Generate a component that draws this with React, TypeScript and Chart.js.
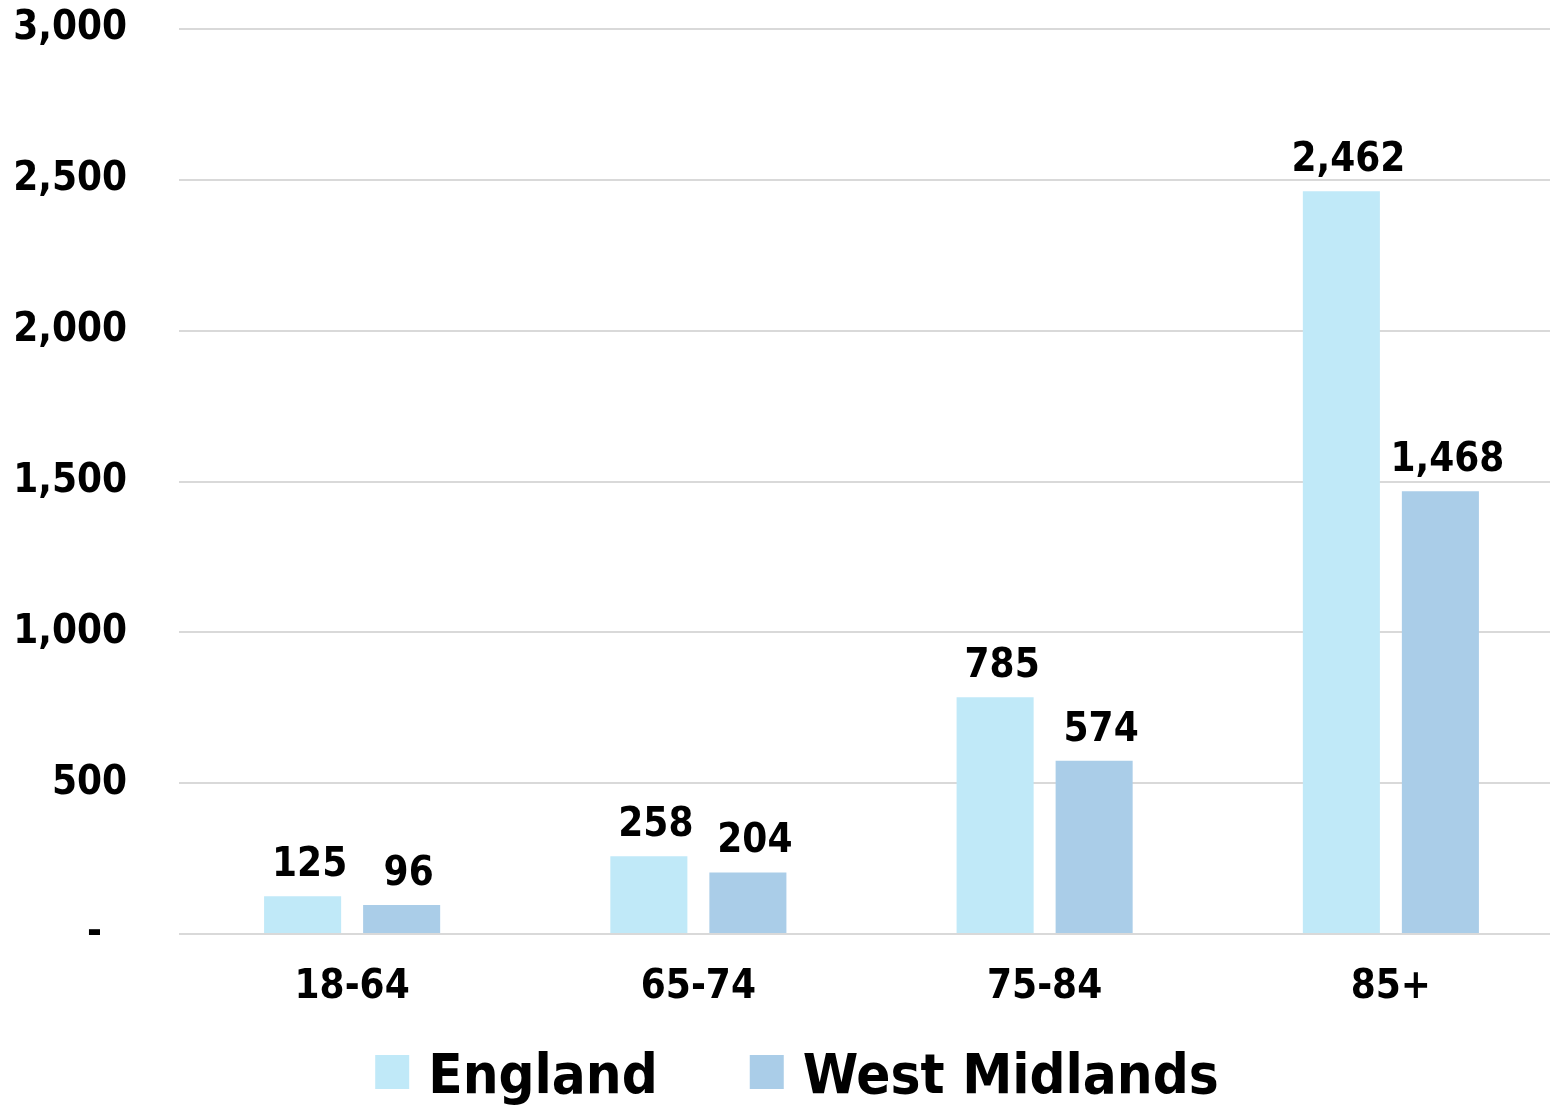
import React, { useEffect, useRef } from "react";
import { Chart, registerables } from "chart.js";

Chart.register(...registerables);

const categories = ["18-64", "65-74", "75-84", "85+"];
const englandValues = [125, 258, 785, 2462];
const westMidlandsValues = [96, 204, 574, 1468];
const yTicks = [0, 500, 1000, 1500, 2000, 2500, 3000];

const FONT = "'DejaVu Sans Condensed', 'DejaVu Sans', sans-serif";
const ENGLAND_COLOR = "#C0E9F8";
const WM_COLOR = "#AACDE8";

// Accounting-style number format: zero shows as a dash with trailing space
const fmt = (v: number) => (v === 0 ? "-  " : v.toLocaleString("en-GB"));

// Draws the value above each bar
const valueLabels = {
  id: "valueLabels",
  afterDatasetsDraw(chart: any) {
    const { ctx } = chart;
    ctx.save();
    ctx.font = `bold 40px ${FONT}`;
    ctx.fillStyle = "#000";
    ctx.textAlign = "center";
    ctx.textBaseline = "alphabetic";
    chart.data.datasets.forEach((ds: any, i: number) => {
      const meta = chart.getDatasetMeta(i);
      meta.data.forEach((bar: any, j: number) => {
        ctx.fillText(fmt(ds.data[j]), bar.x + 7, bar.y - 20);
      });
    });
    ctx.restore();
  },
};

// Legend row along the bottom edge, built from the datasets
const bottomLegend = {
  id: "bottomLegend",
  afterDraw(chart: any) {
    const { ctx } = chart;
    const box = 34;
    const textGap = 19;
    const itemGap = 92;
    const centerX = 797;
    const midY = 1072;
    ctx.save();
    ctx.font = `bold 56px ${FONT}`;
    const items = chart.data.datasets.map((ds: any) => ({
      label: ds.label,
      color: ds.backgroundColor,
      w: box + textGap + ctx.measureText(ds.label).width,
    }));
    const total =
      items.reduce((s: number, it: any) => s + it.w, 0) + itemGap * (items.length - 1);
    let x = centerX - total / 2;
    ctx.textBaseline = "alphabetic";
    ctx.textAlign = "left";
    items.forEach((it: any) => {
      ctx.fillStyle = it.color;
      ctx.fillRect(x, midY - box / 2, box, box);
      ctx.fillStyle = "#000";
      ctx.fillText(it.label, x + box + textGap, midY + 21);
      x += it.w + itemGap;
    });
    ctx.restore();
  },
};

export default function App() {
  const ref = useRef<HTMLCanvasElement>(null);

  useEffect(() => {
    document.body.style.margin = "0";
    const chart = new Chart(ref.current!, {
      type: "bar",
      data: {
        labels: categories,
        datasets: [
          { label: "England", data: englandValues, backgroundColor: ENGLAND_COLOR },
          { label: "West Midlands", data: westMidlandsValues, backgroundColor: WM_COLOR },
        ],
      },
      options: {
        animation: false,
        responsive: false,
        maintainAspectRatio: false,
        layout: { padding: { top: 29, right: 0, left: 0, bottom: 71 } },
        datasets: {
          bar: { categoryPercentage: 0.572, barPercentage: 0.778 },
        },
        scales: {
          x: {
            grid: { display: false, drawTicks: false },
            border: { display: false },
            ticks: {
              color: "#000",
              font: { family: FONT, weight: "bold", size: 40 },
              padding: 30,
            },
            afterFit(scale: any) {
              scale.height = 100;
            },
          },
          y: {
            min: 0,
            max: 3000,
            afterBuildTicks(scale: any) {
              scale.ticks = yTicks.map((v) => ({ value: v }));
            },
            grid: { color: "#D9D9D9", lineWidth: 2, drawTicks: false },
            border: { display: false },
            ticks: {
              color: "#000",
              font: { family: FONT, weight: "bold", size: 40 },
              padding: 52,
              callback: (v: any) => fmt(Number(v)),
            },
            afterFit(scale: any) {
              scale.width = 179;
              scale.paddingTop = 0;
              scale.paddingBottom = 0;
            },
          },
        },
        plugins: {
          legend: { display: false },
          tooltip: { enabled: false },
        },
      },
      plugins: [valueLabels, bottomLegend],
    });
    return () => chart.destroy();
  }, []);

  return (
    <div style={{ width: 1550, height: 1105, overflow: "hidden" }}>
      <canvas ref={ref} width={1564} height={1105} style={{ display: "block" }} />
    </div>
  );
}
